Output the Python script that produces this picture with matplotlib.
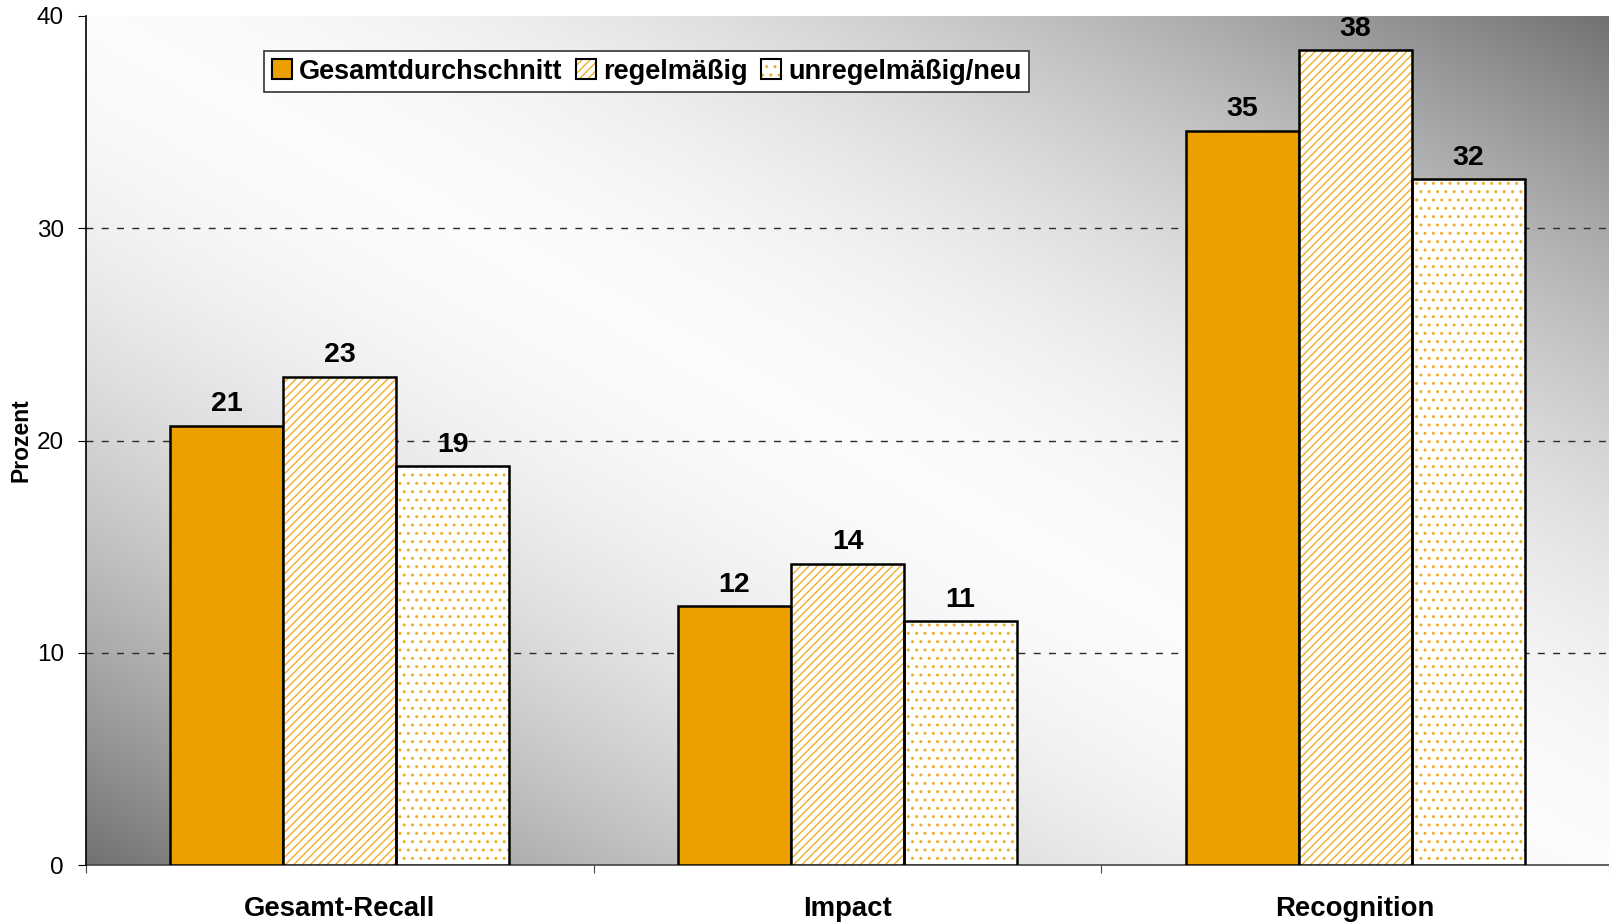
import numpy as np
import matplotlib
matplotlib.use("Agg")
import matplotlib.pyplot as plt
from matplotlib.patches import Patch
from matplotlib.legend_handler import HandlerTuple

plt.rcParams['font.family'] = ['Liberation Sans', 'DejaVu Sans']
plt.rcParams['hatch.linewidth'] = 1.0

categories = ["Gesamt-Recall", "Impact", "Recognition"]
series_names = ["Gesamtdurchschnitt", "regelmäßig", "unregelmäßig/neu"]
gesamt = [20.7, 12.2, 34.6]
regel = [23.0, 14.2, 38.4]
unregel = [18.8, 11.5, 32.3]
labels_gesamt = ["21", "12", "35"]
labels_regel = ["23", "14", "38"]
labels_unregel = ["19", "11", "32"]
yticks = [0, 10, 20, 30, 40]

ORANGE = "#EBA000"
HATCH_ORANGE = "#F0AE28"

fig = plt.figure(figsize=(16.09, 9.23), dpi=100)
ax = fig.add_axes([86/1609, 1-865/923, 1-86/1609, (865-16)/923])

# gradient background (white diagonal band, dark bottom-left and top-right corners)
n = 500
u = np.linspace(0, 1, n)
v = np.linspace(1, 0, n)
U, V = np.meshgrid(u, v)
t = np.abs(U + V - 1)
bright = 0.985 - 0.54 * t ** 1.75
ax.imshow(bright, cmap='gray', vmin=0, vmax=1, extent=[0, 1, 0, 1],
          transform=ax.transAxes, aspect='auto', zorder=0, interpolation='bilinear')

x = np.arange(len(categories)) + 0.5
w = 0.2225
ax.set_xlim(0, 3)
ax.set_ylim(0, 40)

for yv in [10, 20, 30]:
    ax.axhline(yv, color='#2a2a2a', lw=1.0, linestyle=(0, (5, 6)), zorder=1)

ax.bar(x - w, gesamt, w, color=ORANGE, edgecolor='black', linewidth=1.8, zorder=3)
ax.bar(x, regel, w, color='white', edgecolor=HATCH_ORANGE, hatch='////', linewidth=0, zorder=3)
ax.bar(x, regel, w, fill=False, edgecolor='black', linewidth=1.8, zorder=4)
ax.bar(x + w, unregel, w, color='white', edgecolor=HATCH_ORANGE, hatch='..', linewidth=0, zorder=3)
ax.bar(x + w, unregel, w, fill=False, edgecolor='black', linewidth=1.8, zorder=4)

for xs, vals, labs in [(x - w, gesamt, labels_gesamt), (x, regel, labels_regel), (x + w, unregel, labels_unregel)]:
    for xi, vi, li in zip(xs, vals, labs):
        ax.annotate(li, (xi, vi), xytext=(0, 6), textcoords='offset points',
                    ha='center', va='bottom', fontsize=20.5, fontweight='bold', zorder=5)

ax.set_yticks(yticks)
ax.set_yticklabels([str(t_) for t_ in yticks], fontsize=17.5)
ax.set_xticks([0, 1, 2, 3])
ax.set_xticklabels([])
ax.set_xticks(x, minor=True)
ax.set_xticklabels(categories, minor=True, fontsize=19.8, fontweight='bold')
ax.tick_params(axis='x', which='minor', length=0, pad=22)
ax.tick_params(axis='x', which='major', length=6, color='#444444')
ax.tick_params(axis='y', length=6, pad=10)
ax.set_ylabel("Prozent", fontsize=16.5, fontweight='bold', labelpad=3)

for s in ['top', 'right']:
    ax.spines[s].set_visible(False)
ax.spines['left'].set_linewidth(1.2)
ax.spines['bottom'].set_color('#444444')
ax.spines['bottom'].set_linewidth(1.2)
ax.spines['left'].set_zorder(6)

h1 = Patch(facecolor=ORANGE, edgecolor='black', linewidth=1.5)
h2 = (Patch(facecolor='white', edgecolor=HATCH_ORANGE, hatch='////', linewidth=0),
      Patch(fill=False, edgecolor='black', linewidth=1.5))
h3 = (Patch(facecolor='white', edgecolor=HATCH_ORANGE, hatch='..', linewidth=0),
      Patch(fill=False, edgecolor='black', linewidth=1.5))
leg = ax.legend([h1, h2, h3], series_names, ncol=3, loc='upper left',
                bbox_to_anchor=(0.1169, 0.9588), borderaxespad=0,
                handler_map={tuple: HandlerTuple(ndivide=1)},
                prop={'size': 19.5, 'weight': 'bold'}, frameon=True, fancybox=False,
                edgecolor='#333333', framealpha=1, handlelength=0.75, handleheight=0.75,
                handletextpad=0.25, columnspacing=0.5, borderpad=0.28)
leg.get_frame().set_linewidth(1.2)
leg.set_zorder(10)

fig.savefig("out.png", dpi=100)
